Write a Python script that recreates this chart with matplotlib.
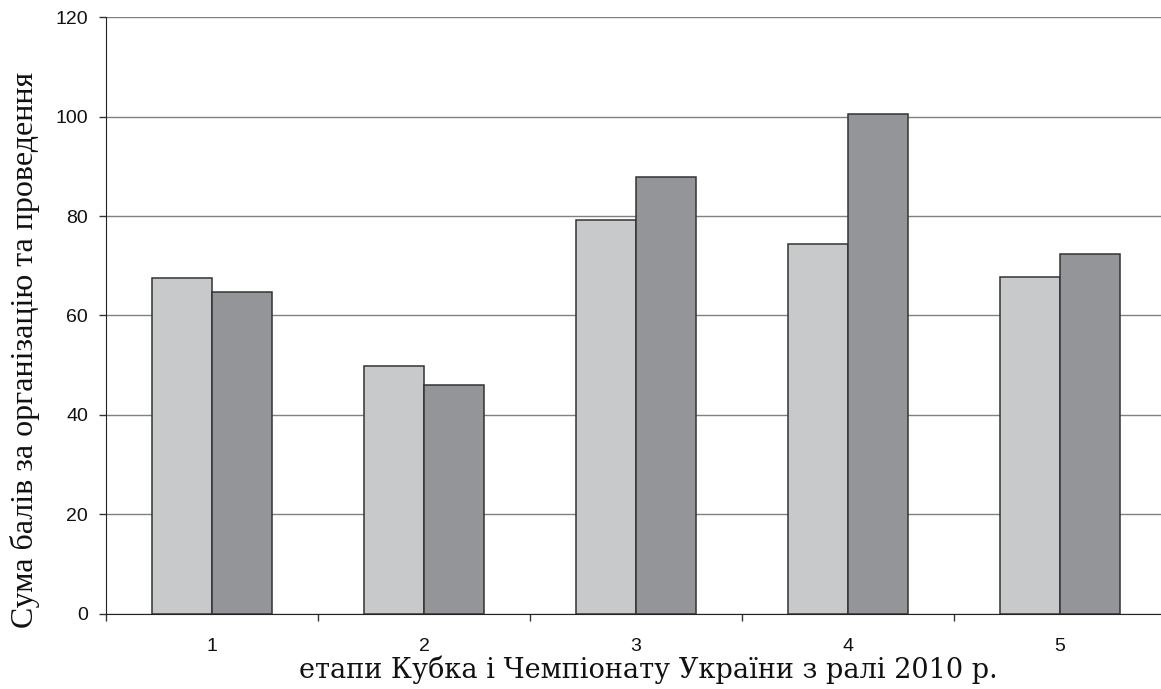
import numpy as np
import matplotlib
matplotlib.use("Agg")
import matplotlib.pyplot as plt

# дані
stages = ["1", "2", "3", "4", "5"]
light_vals = [67.6, 49.8, 79.2, 74.4, 67.8]
dark_vals = [64.7, 46.0, 87.8, 100.6, 72.4]
y_ticks = [0, 20, 40, 60, 80, 100, 120]

fig = plt.figure(figsize=(11.61, 6.89), dpi=100)
ax = fig.add_axes([0.0913, 0.1089, 0.9130, 0.8664])

x = np.arange(1, len(stages) + 1)
w = 0.285
ax.bar(x - w / 2, light_vals, w, color="#c8c9cb", edgecolor="#333333", linewidth=1.1, zorder=3)
ax.bar(x + w / 2, dark_vals, w, color="#939598", edgecolor="#333333", linewidth=1.1, zorder=3)

ax.set_xlim(0.5, 5.5)
ax.set_ylim(0, 120)
ax.set_yticks(y_ticks)
ax.yaxis.grid(True, color="#808080", linewidth=1.0, zorder=0)
ax.set_axisbelow(True)

# мітки на межах груп, підписи по центру
ax.set_xticks(np.arange(0.5, 6, 1.0))
ax.set_xticklabels([])
ax.set_xticks(x, minor=True)
ax.set_xticklabels(stages, minor=True)
ax.tick_params(axis="x", which="major", length=5, width=1, color="#333333", direction="out")
ax.tick_params(axis="x", which="minor", length=0, pad=17)
ax.tick_params(axis="y", length=5, width=1, color="#333333", pad=8)
for lab in ax.get_xticklabels(minor=True) + ax.get_yticklabels():
    lab.set_family("Liberation Sans")
    lab.set_fontsize(14)
    lab.set_color("#111111")

for s in ["top", "right"]:
    ax.spines[s].set_visible(False)
ax.spines["left"].set_color("#222222")
ax.spines["bottom"].set_color("#222222")

fig.text(0.5586, 0.016, "етапи Кубка і Чемпіонату України з ралі 2010 р.",
         ha="center", va="baseline", family="DejaVu Serif", fontsize=19.5, color="#111111")
fig.text(0.0215, 0.492, "Сума балів за організацію та проведення", rotation=90,
         ha="center", va="center", family="Liberation Serif", fontsize=23, color="#111111")

fig.savefig("out.png", dpi=100)
